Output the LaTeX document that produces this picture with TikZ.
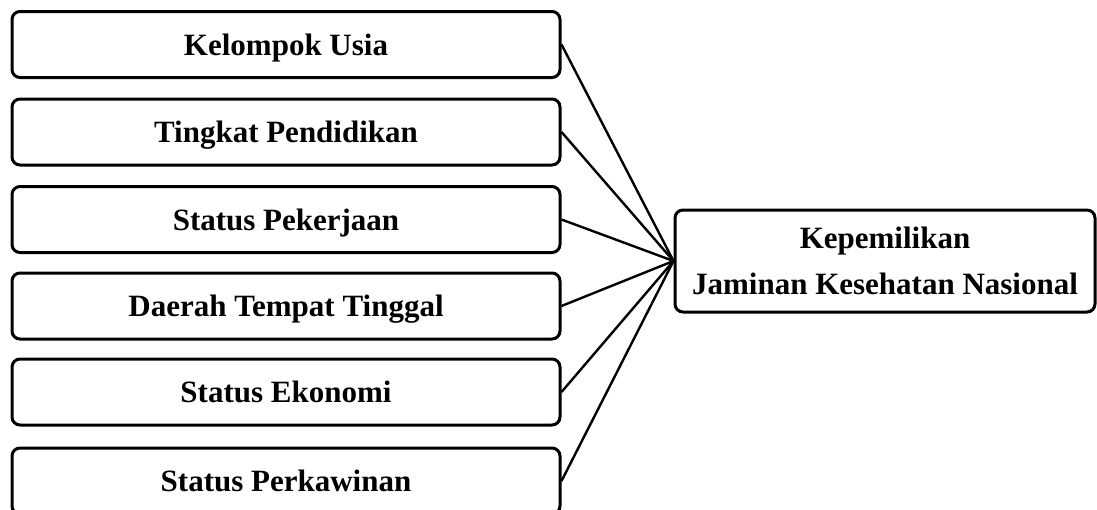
\documentclass[tikz,border=0pt]{standalone}
\usepackage{fontspec}
\setmainfont{Liberation Serif}
\begin{document}
\begin{tikzpicture}[x=0.5pt,y=-0.5pt,
  basebox/.style={draw, line width=1.5pt, rounded corners=4pt,
    inner sep=0pt, align=center,
    font=\fontsize{15.5}{23}\selectfont\bfseries},
  box/.style={basebox, minimum width=274pt, minimum height=33pt,
    text height=11pt, text depth=0.5pt},
  bigbox/.style={basebox, minimum width=210pt, minimum height=51pt, yshift=-1pt},
  link/.style={line width=1.2pt}]
\useasboundingbox (0,0) rectangle (1097,509);
\node[box] (a) at (286,44.5) {Kelompok Usia};
\node[box] (b) at (286,132) {Tingkat Pendidikan};
\node[box] (c) at (286,219.5) {Status Pekerjaan};
\node[box] (d) at (286,306) {Daerah Tempat Tinggal};
\node[box] (e) at (286,392) {Status Ekonomi};
\node[box] (f) at (286,481) {Status Perkawinan};
\node[bigbox] (t) at (885,259) {Kepemilikan\\Jaminan Kesehatan Nasional};
\foreach \n in {a,b,c,d,e,f}
  \draw[link] (\n.east) -- (t.west);
\end{tikzpicture}
\end{document}
